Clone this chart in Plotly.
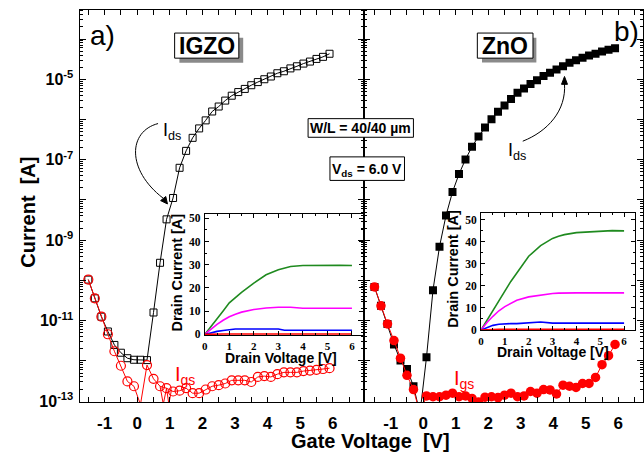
import plotly.graph_objects as go

W, H = 644, 460
def fx(p):
    return p / W
def fy(p):
    return 1 - p / H

# ---------------- data ----------------
vg = [-1.5, -1.3, -1.1, -0.9, -0.7, -0.5, -0.3, -0.1, 0.1, 0.3, 0.5, 0.7, 0.9, 1.1, 1.3,
      1.5, 1.7, 1.9, 2.1, 2.3, 2.5, 2.7, 2.9, 3.1, 3.3, 3.5, 3.7, 3.9, 4.1, 4.3, 4.5,
      4.7, 4.9, 5.1, 5.3, 5.5, 5.7, 5.9]

igzo_ids = [1.05e-10, 3.6e-11, 1.26e-11, 5.4e-12, 2.5e-12, 1.6e-12, 1.17e-12, 1.07e-12,
            1.07e-12, 1.05e-12, 1.6e-11, 2.75e-10, 3.3e-9, 1.12e-8, 6.3e-8, 1.66e-7,
            3.5e-7, 6.0e-7, 9.5e-7, 1.58e-6, 2.1e-6, 2.95e-6, 3.9e-6, 4.8e-6, 5.75e-6,
            7.1e-6, 8.5e-6, 1.0e-5, 1.17e-5, 1.41e-5, 1.58e-5, 1.86e-5, 2.1e-5, 2.45e-5,
            2.75e-5, 3.2e-5, 3.6e-5, 4.3e-5]

igzo_igs = [1.05e-10, 3.6e-11, 1.26e-11, 4.6e-12, 1.74e-12, 7.6e-13, 3.1e-13, 2.35e-13,
            8.3e-14, 7.9e-13, 3.6e-13, 2.35e-13, 2.1e-13, 1.74e-13, 1.82e-13, 2.1e-13,
            1.58e-13, 1.58e-13, 1.95e-13, 2.35e-13, 2.5e-13, 2.75e-13, 3.3e-13, 3.3e-13,
            3.3e-13, 3.0e-13, 4.0e-13, 4.2e-13, 4.0e-13, 4.7e-13, 5.2e-13, 5.2e-13,
            5.2e-13, 5.6e-13, 5.75e-13, 6.0e-13, 6.3e-13, 6.6e-13]

# noise spikes of the IGZO gate-current line between the markers
igzo_igs_spike_v = [0.7, 0.8, 0.9, 0.97, 1.05]
igzo_igs_spike_i = [2.35e-13, 8.5e-14, 2.1e-13, 8.5e-14, 1.9e-13]

zno_ids = [6.9e-11, 2.35e-11, 8.3e-12, 2.57e-12, 1.02e-12, 6.3e-13, 2.35e-13, 5e-14,
           1.23e-12, 5.75e-11, 6.9e-10, 4.1e-9, 1.58e-8, 4.4e-8, 1.02e-7, 2.1e-7,
           3.8e-7, 6.3e-7, 1.02e-6, 1.55e-6, 2.24e-6, 3.24e-6, 4.6e-6, 5.9e-6, 7.6e-6,
           9.5e-6, 1.2e-5, 1.45e-5, 1.74e-5, 2.1e-5, 2.57e-5, 2.95e-5, 3.4e-5, 3.9e-5,
           4.3e-5, 4.9e-5, 5.4e-5, 5.9e-5]

zno_igs = [6.9e-11, 2.35e-11, 8.3e-12, 3.2e-12, 1.17e-12, 4.4e-13, 1.95e-13, 5e-14,
           1.35e-13, 1.29e-13, 1.29e-13, 1.41e-13, 1.58e-13, 1.29e-13, 1.35e-13, 1.17e-13,
           9.5e-14, 1.26e-13, 1.29e-13, 1.23e-13, 1.41e-13, 1.58e-13, 1.29e-13, 1.35e-13,
           1.74e-13, 1.58e-13, 1.95e-13, 1.9e-13, 1.51e-13, 2.5e-13, 2.35e-13, 2.2e-13,
           2.75e-13, 2.75e-13, 3.9e-13, 8.1e-13, 1.35e-12, 2.57e-12]

# inset output curves (drain current vs drain voltage)
vd = [0, 0.25, 0.5, 0.75, 1, 1.25, 1.5, 2, 2.5, 3, 3.25, 3.5, 4, 4.5, 5, 5.5, 6]
igzo_out_green = [0, 3.2, 6.4, 10.1, 13.6, 16.0, 18.1, 22.1, 25.7, 27.9, 28.7, 29.3, 29.7, 29.8, 29.8, 29.8, 29.7]
igzo_out_magenta = [0, 2.2, 4.3, 6.1, 7.6, 8.7, 9.6, 10.7, 11.4, 11.7, 11.7, 11.7, 11.3, 11.3, 11.3, 11.3, 11.3]
igzo_out_blue = [0, 0.7, 1.3, 1.7, 2.1, 2.3, 2.3, 2.3, 2.3, 2.3, 1.8, 1.8, 1.8, 1.8, 1.8, 1.8, 1.8]
igzo_out_red = [0, 0.15, 0.2, 0.2, 0.2, 0.2, 0.2, 0.2, 0.2, 0.2, 0.2, 0.2, 0.2, 0.2, 0.2, 0.2, 0.2]
zno_out_green = [0, 4.3, 8.4, 13.2, 17.6, 22.0, 26.0, 33.4, 38.2, 41.5, 42.5, 43.2, 44.1, 44.4, 44.7, 45.0, 44.9]
zno_out_magenta = [0, 3.4, 6.2, 8.7, 10.6, 12.2, 13.5, 15.0, 15.9, 16.5, 16.7, 16.8, 16.8, 16.8, 16.8, 16.8, 16.8]
zno_out_blue = [0, 1.0, 2.1, 2.6, 2.9, 2.9, 2.9, 3.2, 3.6, 3.1, 3.1, 3.1, 3.1, 3.1, 3.1, 3.1, 3.1]
zno_out_red = [0, 0.2, 0.3, 0.3, 0.3, 0.3, 0.3, 0.3, 0.3, 0.3, 0.3, 0.3, 0.3, 0.3, 0.3, 0.3, 0.3]

gate_ticks = [-1, 0, 1, 2, 3, 4, 5, 6]
gate_minor = [-1.5, -0.5, 0.5, 1.5, 2.5, 3.5, 4.5, 5.5, 6.5]
cur_labeled = [-13, -11, -9, -7, -5]
cur_unlabeled = [-12, -10, -8, -6, -4]
inset_xticks = [0, 1, 2, 3, 4, 5, 6]
inset_xminor = [0.5, 1.5, 2.5, 3.5, 4.5, 5.5]
inset_yticks = [0, 10, 20, 30, 40, 50]
inset_yminor = [5, 15, 25, 35, 45]

GREEN, MAGENTA, BLUE, RED = "#1f8a1f", "#ff00ff", "#0000ff", "#ff0000"
SANS = "Liberation Sans"
SERIF = "Liberation Serif"
YRANGE = [-13.02, -3.275]

cur_tickvals = [10.0 ** e for e in cur_labeled]
cur_ticktext = ["<b>10<sup>%d</sup></b>" % e for e in cur_labeled]
cur_even_vals = [10.0 ** e for e in cur_unlabeled]
cur_minor = [m * 10.0 ** e for e in range(-13, -3) for m in range(2, 10)]

fig = go.Figure()

# ---------------- main traces ----------------
fig.add_trace(go.Scatter(x=vg, y=igzo_ids, mode="lines+markers", xaxis="x", yaxis="y",
                         line=dict(color="black", width=1),
                         marker=dict(symbol="square-open", size=7, color="black",
                                     line=dict(width=1, color="black"))))
fig.add_trace(go.Scatter(x=igzo_igs_spike_v, y=igzo_igs_spike_i, mode="lines",
                         xaxis="x", yaxis="y", line=dict(color=RED, width=1)))
fig.add_trace(go.Scatter(x=vg, y=igzo_igs, mode="lines+markers", xaxis="x", yaxis="y",
                         cliponaxis=False,
                         line=dict(color=RED, width=1),
                         marker=dict(symbol="circle-open", size=9, color=RED,
                                     line=dict(width=1.2, color=RED))))
fig.add_trace(go.Scatter(x=vg, y=zno_ids, mode="lines+markers", xaxis="x2", yaxis="y2",
                         line=dict(color="black", width=1),
                         marker=dict(symbol="square", size=8, color="black")))
fig.add_trace(go.Scatter(x=vg, y=zno_igs, mode="lines+markers", xaxis="x2", yaxis="y2",
                         line=dict(color=RED, width=1),
                         marker=dict(symbol="circle", size=9.5, color=RED)))
# empty traces so that the overlay tick axes (unlabelled decades) get drawn
fig.add_trace(go.Scatter(x=[], y=[], xaxis="x", yaxis="y5", hoverinfo="skip"))
fig.add_trace(go.Scatter(x=[], y=[], xaxis="x2", yaxis="y6", hoverinfo="skip"))

# ---------------- inset traces ----------------
for ys, c in [(igzo_out_green, GREEN), (igzo_out_magenta, MAGENTA),
              (igzo_out_blue, BLUE), (igzo_out_red, RED)]:
    fig.add_trace(go.Scatter(x=vd, y=ys, mode="lines", xaxis="x3", yaxis="y3",
                             line=dict(color=c, width=1.6)))
for ys, c in [(zno_out_green, GREEN), (zno_out_magenta, MAGENTA),
              (zno_out_blue, BLUE), (zno_out_red, RED)]:
    fig.add_trace(go.Scatter(x=vd, y=ys, mode="lines", xaxis="x4", yaxis="y4",
                             line=dict(color=c, width=1.6)))

# ---------------- axes ----------------
main_x_common = dict(tickmode="array", tickvals=gate_ticks,
                     ticktext=["<b>%d</b>" % t for t in gate_ticks],
                     ticks="inside", ticklen=5, tickcolor="black", mirror="allticks",
                     showline=True, linecolor="black", linewidth=1,
                     showgrid=False, zeroline=False, ticklabelstandoff=6,
                     tickfont=dict(family=SANS, size=17, color="black"),
                     minor=dict(tickmode="array", tickvals=gate_minor, ticks="inside",
                                ticklen=3, tickcolor="black", showgrid=False))
main_y_common = dict(type="log", range=YRANGE, tickmode="array",
                     tickvals=cur_tickvals, ticktext=cur_ticktext,
                     ticks="inside", ticklen=6, tickcolor="black", mirror="allticks",
                     showline=True, linecolor="black", linewidth=1,
                     showgrid=False, zeroline=False, ticklabelstandoff=2,
                     tickfont=dict(family=SANS, size=16, color="black"),
                     minor=dict(tickmode="array", tickvals=cur_minor, ticks="inside",
                                ticklen=3, tickcolor="black", showgrid=False),
                     domain=[fy(409), fy(9)])
even_y_common = dict(type="log", range=YRANGE, tickmode="array", tickvals=cur_even_vals,
                     ticks="inside", ticklen=6, tickcolor="black", mirror="allticks",
                     showline=False, showgrid=False, zeroline=False,
                     showticklabels=False)

inset_x_common = dict(tickmode="array", tickvals=inset_xticks,
                      ticktext=["<b>%d</b>" % t for t in inset_xticks],
                      ticks="inside", ticklen=4, tickcolor="black", mirror="allticks",
                      showline=True, linecolor="black", linewidth=1,
                      showgrid=False, zeroline=False, ticklabelstandoff=0,
                      tickfont=dict(family=SERIF, size=11, color="black"),
                      minor=dict(tickmode="array", tickvals=inset_xminor, ticks="inside",
                                 ticklen=2, tickcolor="black", showgrid=False))
inset_y_common = dict(tickmode="array", tickvals=inset_yticks,
                      ticktext=["<b>%d</b>" % t for t in inset_yticks],
                      ticks="inside", ticklen=4, tickcolor="black", mirror="allticks",
                      showline=True, linecolor="black", linewidth=1,
                      showgrid=False, zeroline=False, ticklabelstandoff=1,
                      tickfont=dict(family=SERIF, size=11.5, color="black"),
                      minor=dict(tickmode="array", tickvals=inset_yminor, ticks="inside",
                                 ticklen=2, tickcolor="black", showgrid=False))

fig.update_layout(
    width=W, height=H, margin=dict(l=0, r=0, t=0, b=0),
    paper_bgcolor="white", plot_bgcolor="rgba(0,0,0,0)", showlegend=False,
    font=dict(family=SANS, color="black"),
    xaxis=dict(domain=[fx(77), fx(363)], range=[-1.77, 6.95], anchor="y", **main_x_common),
    yaxis=dict(anchor="x", **main_y_common),
    yaxis5=dict(anchor="x", overlaying="y", **even_y_common),
    xaxis2=dict(domain=[fx(363), 1.0], range=[-1.83, 6.76], anchor="y2", **main_x_common),
    yaxis2=dict(anchor="x2", showticklabels=False, **main_y_common),
    yaxis6=dict(anchor="x2", overlaying="y2", **even_y_common),
    xaxis3=dict(domain=[fx(203), fx(362)], range=[0, 6.44], anchor="y3", **inset_x_common),
    yaxis3=dict(domain=[fy(341), fy(217)], range=[-0.4, 52], anchor="x3", **inset_y_common),
    xaxis4=dict(domain=[fx(481), fx(636)], range=[0, 6.46], anchor="y4", **inset_x_common),
    yaxis4=dict(domain=[fy(336), fy(216)], range=[-0.2, 53.1], anchor="x4", **inset_y_common),
)

# ---------------- shapes ----------------
def rect(x0, y0, x1, y1, fill, line=True):
    return dict(type="rect", xref="paper", yref="paper",
                x0=fx(x0), x1=fx(x1), y0=fy(y1), y1=fy(y0),
                fillcolor=fill, line=dict(color="black", width=1 if line else 0),
                layer="above")

def path(cmd, fill=None):
    out = []
    for tok in cmd.split():
        if "," in tok:
            a, b = tok.split(",")
            out.append("%.5f,%.5f" % (fx(float(a)), fy(float(b))))
        else:
            out.append(tok)
    d = dict(type="path", xref="paper", yref="paper", path=" ".join(out),
             line=dict(color="black", width=1), layer="above")
    if fill:
        d["fillcolor"] = fill
    return d

shapes = [
    rect(177.5, 37.5, 241.7, 63, "#8a8a8a", line=False),
    rect(172.7, 32.7, 237.3, 58.3, "white"),
    rect(482, 37.5, 536.7, 62.7, "#8a8a8a", line=False),
    rect(477.3, 32.7, 533.3, 58.3, "white"),
    rect(307, 120, 413, 139, "white"),
    rect(329, 159, 404, 183, "white"),
    # curved pointers to the I_ds curves, with their arrow heads
    path("M 156,125 C 126,133 124,172 161,201"),
    path("M 165.5,207 L 158.6,203.6 L 163.8,199.4 Z", fill="black"),
    path("M 523,143 C 548,133 567,112 565,84"),
    path("M 565,77 L 562,85 L 568,85 Z", fill="black"),
]
fig.update_layout(shapes=shapes)

# ---------------- annotations ----------------
def txt(x, y, text, size, color="black", family=SANS, angle=0):
    return dict(x=fx(x), y=fy(y), xref="paper", yref="paper", text=text,
                showarrow=False, xanchor="center", yanchor="middle",
                font=dict(family=family, size=size, color=color), textangle=angle)

annotations = [
    txt(100, 35, "a)", 28),
    txt(627, 31, "b)", 28),
    txt(205, 46, "<b>IGZO</b>", 23),
    txt(505, 46, "<b>ZnO</b>", 23),
    txt(360, 130, "<b>W/L = 40/40 µm</b>", 14),
    txt(366.5, 172, "<b>V<sub>ds</sub> = 6.0 V</b>", 14),
    txt(170, 133, "I<sub>ds</sub>", 18),
    txt(517, 153, "I<sub>ds</sub>", 18),
    txt(183, 382, "I<sub>gs</sub>", 20, color=RED),
    txt(464, 386, "I<sub>gs</sub>", 20, color=RED),
    txt(370, 449, "<b>Gate Voltage&nbsp; [V]</b>", 20),
    txt(25, 215, "<b>Current&nbsp; [A]</b>", 20, angle=-90),
    txt(280, 364, "<b>Drain Voltage [V]</b>", 14),
    txt(553, 358.5, "<b>Drain Voltage [V]</b>", 14),
    txt(175, 277, "<b>Drain Current [A]</b>", 14.5, angle=-90),
    txt(452, 273, "<b>Drain Current [A]</b>", 14.5, angle=-90),
]
fig.update_layout(annotations=annotations)

fig.write_html("out.html")
